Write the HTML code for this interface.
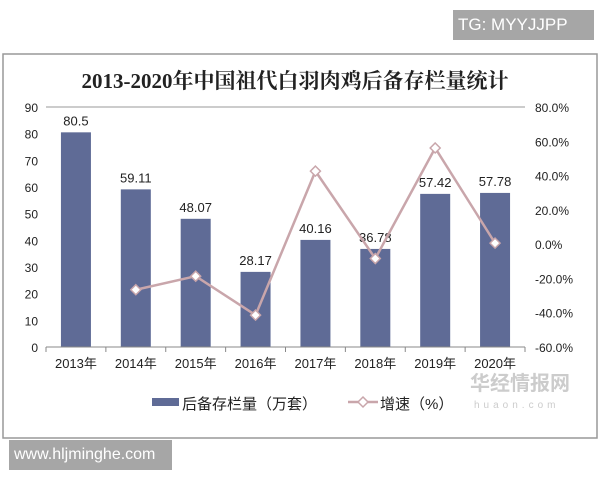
<!DOCTYPE html>
<html><head><meta charset="utf-8"><style>
body{margin:0;width:600px;height:480px;background:#fff;position:relative;overflow:hidden;font-family:"Liberation Sans","Noto Sans CJK SC",sans-serif}
.tag{position:absolute;background:#a6a6a6;color:#fff;font-size:17px;line-height:30px;padding-left:5px}
</style></head><body>
<div class="tag" style="left:453px;top:10px;width:136px;height:30px">TG: MYYJJPP</div>
<svg width="600" height="480" style="position:absolute;left:0;top:0" id="c">
<rect x="3" y="54" width="594" height="384" fill="#fff" stroke="#999" stroke-width="1.5"/>
<text x="295" y="88" text-anchor="middle" font-family="'Liberation Serif','Noto Serif CJK SC',serif" font-size="21" font-weight="bold" fill="#222">2013-2020年中国祖代白羽肉鸡后备存栏量统计</text>
<g id="g"></g>
<g>
<rect x="152" y="398" width="27" height="8" fill="#5f6b96"/>
<text x="182" y="409" font-size="15" fill="#222">后备存栏量（万套）</text>
<line x1="348" y1="402" x2="378" y2="402" stroke="#c9a6ab" stroke-width="2.5"/>
<path d="M363 397 L368 402 L363 407 L358 402Z" fill="#fff" stroke="#c9a6ab" stroke-width="1.5"/>
<text x="380" y="409" font-size="15" fill="#222">增速（%）</text>
</g>
<text x="470" y="390" font-size="20" font-weight="bold" fill="#ccc">华经情报网</text>
<text x="474" y="408" font-size="10" fill="#ccc" letter-spacing="4">huaon.com</text>
</svg>
<div class="tag" style="left:9px;top:440px;width:158px;height:30px;font-size:16px">www.hljminghe.com</div>
<script>
const categories=["2013年","2014年","2015年","2016年","2017年","2018年","2019年","2020年"];
const stock=[80.5,59.11,48.07,28.17,40.16,36.78,57.42,57.78];
const growth=[null,-26.6,-18.7,-41.4,42.6,-8.4,56.1,0.6];
const leftTicks=[0,10,20,30,40,50,60,70,80,90];
const rightTicks=[-60,-40,-20,0,20,40,60,80];
const L=46,R=525,T=107,B=347;
const cw=(R-L)/categories.length;
const yL=v=>B-(v/90)*(B-T);
const yR=v=>B-((v+60)/140)*(B-T);
const xC=i=>L+cw*(i+0.5);
const g=document.getElementById('g');const NS='http://www.w3.org/2000/svg';
function el(t,a,txt){const e=document.createElementNS(NS,t);for(const k in a)e.setAttribute(k,a[k]);if(txt!=null)e.textContent=txt;g.appendChild(e);return e;}
let e=el('line',{x1:L,y1:T,x2:R,y2:T,stroke:'#999'});


leftTicks.forEach(v=>{const t=el('text',{x:38,y:yL(v)+5,'text-anchor':'end','font-size':12,fill:'#222'},v);

});
rightTicks.forEach(v=>{const t=el('text',{x:535,y:yR(v)+5,'font-size':12,fill:'#222'},v.toFixed(1)+'%');

});
stock.forEach((v,i)=>{const b=el('rect',{x:xC(i)-15,y:yL(v),width:30,height:B-yL(v),fill:'#5f6b96'});


const t=el('text',{x:xC(i),y:yL(v)-7,'text-anchor':'middle','font-size':13,fill:'#222'},v);


const c=el('text',{x:xC(i),y:B+21,'text-anchor':'middle','font-size':13,fill:'#222'},categories[i]);

});
e=el('line',{x1:L,y1:B,x2:R,y2:B,stroke:'#888'});


for(let i=0;i<=categories.length;i++){el('line',{x1:L+cw*i,y1:B,x2:L+cw*i,y2:B+5,stroke:'#888'});}
const pts=growth.map((v,i)=>v==null?null:[xC(i),yR(v)]).filter(p=>p);
e=el('polyline',{points:pts.map(p=>p.join(',')).join(' '),fill:'none',stroke:'#c9a6ab','stroke-width':2.5});


pts.forEach(p=>{const d=el('path',{d:`M${p[0]} ${p[1]-5}L${p[0]+5} ${p[1]}L${p[0]} ${p[1]+5}L${p[0]-5} ${p[1]}Z`,fill:'#fff',stroke:'#c9a6ab','stroke-width':1.5});

});
</script>
</body></html>
